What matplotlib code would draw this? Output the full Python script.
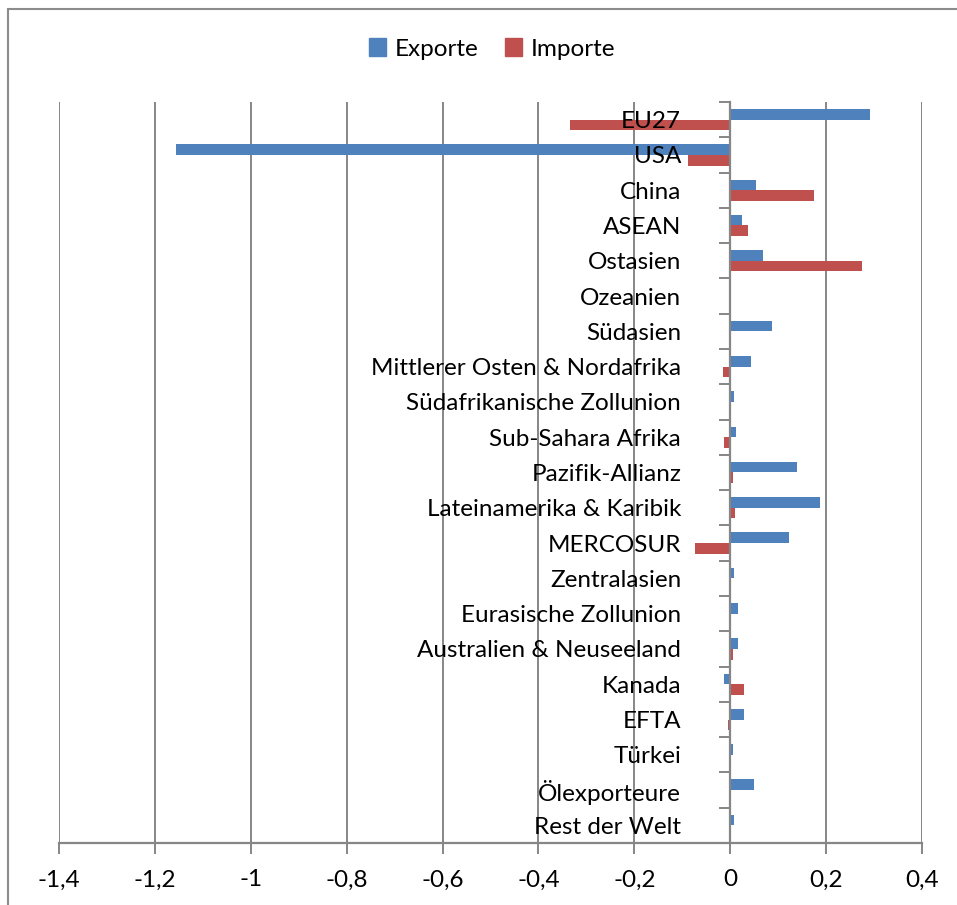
import matplotlib
matplotlib.use("Agg")
import matplotlib.pyplot as plt
from matplotlib.patches import Rectangle, Patch
from matplotlib.ticker import FixedLocator
from matplotlib.transforms import offset_copy
import numpy as np

categories = ["EU27", "USA", "China", "ASEAN", "Ostasien", "Ozeanien", "Südasien",
              "Mittlerer Osten & Nordafrika", "Südafrikanische Zollunion",
              "Sub-Sahara Afrika", "Pazifik-Allianz", "Lateinamerika & Karibik",
              "MERCOSUR", "Zentralasien", "Eurasische Zollunion",
              "Australien & Neuseeland", "Kanada", "EFTA", "Türkei",
              "Ölexporteure", "Rest der Welt"]
exporte = [0.292, -1.155, 0.054, 0.025, 0.069, 0.002, 0.088, 0.043, 0.008,
           0.013, 0.139, 0.188, 0.122, 0.007, 0.016, 0.017, -0.013, 0.028,
           0.006, 0.050, 0.008]
importe = [-0.335, -0.089, 0.175, 0.037, 0.275, 0.0005, 0.0, -0.016, 0.0,
           -0.014, 0.005, 0.011, -0.073, 0.0, 0.0, 0.006, 0.028, -0.004,
           0.002, 0.0, 0.0]
xticks = [-1.4, -1.2, -1.0, -0.8, -0.6, -0.4, -0.2, 0.0, 0.2, 0.4]
xticklabels = ["-1,4", "-1,2", "-1", "-0,8", "-0,6", "-0,4", "-0,2", "0", "0,2", "0,4"]

FONT = "Lato"
plt.rcParams['font.family'] = [FONT, 'DejaVu Sans']
FS = 17.5

W, H = 957, 905
fig = plt.figure(figsize=(W / 100, H / 100), dpi=100)
ax = fig.add_axes([59 / W, 62 / H, (922 - 59) / W, (843 - 102) / H])

blue = "#4F81BD"
red = "#C0504D"
grid_c = "#868686"

y = np.arange(len(categories))
h = 0.3
ax.barh(y - h / 2, exporte, height=h, color=blue, zorder=3)
ax.barh(y + h / 2, importe, height=h, color=red, zorder=3)

ax.set_xlim(-1.4, 0.4)
ax.set_ylim(len(categories) - 0.5, -0.5)

ax.set_xticks(xticks)
ax.set_xticklabels(xticklabels, fontsize=FS)
for x in xticks:
    if abs(x) > 1e-9:
        ax.axvline(x, color=grid_c, lw=1.4, zorder=1)

ax.spines['top'].set_visible(False)
ax.spines['right'].set_visible(False)
ax.spines['bottom'].set_color(grid_c)
ax.spines['bottom'].set_linewidth(1.6)
ax.spines['left'].set_position(('data', 0))
ax.spines['left'].set_color(grid_c)
ax.spines['left'].set_linewidth(1.6)
ax.spines['left'].set_zorder(4)

ax.tick_params(axis='x', direction='out', length=8, width=1.4, color=grid_c, pad=11)
ax.set_yticks(y)
ax.set_yticklabels([])
ax.tick_params(axis='y', which='major', length=0)
ax.yaxis.set_minor_locator(FixedLocator(np.arange(-0.5, len(categories) + 0.5, 1.0)))
ax.tick_params(axis='y', which='minor', direction='out', length=8, width=1.4, color=grid_c)

# Category labels drawn on top of bars, right-aligned left of the zero axis
trans = offset_copy(ax.transData, fig=fig, x=-49, y=-2, units='dots')
for yi, name in zip(y, categories):
    ax.text(0, yi, name, transform=trans, ha='right', va='center',
            fontsize=FS, zorder=6, color='black')

# Chart border
fig.add_artist(Rectangle((8 / W, -0.1), 1.2, 1.1 - 9 / H, transform=fig.transFigure,
                         fill=False, edgecolor="#8c8c8c", lw=1.5))

handles = [Patch(color=blue, label="Exporte"), Patch(color=red, label="Importe")]
fig.legend(handles=handles, loc='center', bbox_to_anchor=(492 / W, 1 - 49 / H), ncol=2,
           frameon=False, fontsize=FS, handlelength=0.7, handleheight=0.7,
           handletextpad=0.35, columnspacing=1.1)

fig.savefig("out.png", dpi=100)
